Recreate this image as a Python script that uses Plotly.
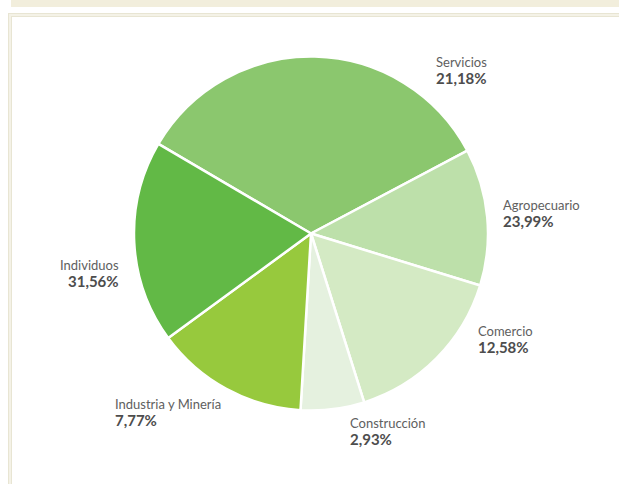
import plotly.graph_objects as go

# Data
categories = ["Servicios", "Agropecuario", "Comercio", "Construcción", "Industria y Minería", "Individuos"]
slice_values = [33.8, 12.5, 15.4, 5.8, 14.0, 18.5]          # slice sizes as drawn
label_percents = ["21,18%", "23,99%", "12,58%", "2,93%", "7,77%", "31,56%"]  # printed labels
colors = ["#8BC76E", "#BDE0AA", "#D4EAC4", "#E5F1DF", "#97C93D", "#62B946"]

W, H = 619, 484

def px(x):
    return x / W

def py(y):
    return 1 - y / H

cx, cy, r = 311, 233.5, 177

fig = go.Figure(go.Pie(
    labels=categories,
    values=slice_values,
    sort=False,
    direction="clockwise",
    rotation=-59.6,
    marker=dict(colors=colors, line=dict(color="white", width=2.5)),
    textinfo="none",
    hoverinfo="label+percent",
    showlegend=False,
    domain=dict(x=[px(cx - r), px(cx + r)], y=[py(cy + r), py(cy - r)]),
))

# label positions (x, y of name line, anchor)
label_pos = [
    (434, 62, "left"),
    (501, 205, "left"),
    (476, 331, "left"),
    (348, 423, "left"),
    (113, 404, "left"),
    (121, 265, "right"),
]

annotations = []
for name, pct, (x, y, anchor) in zip(categories, label_percents, label_pos):
    annotations.append(dict(
        x=px(x), y=py(y), xref="paper", yref="paper", xanchor=anchor, yanchor="middle",
        text=name, showarrow=False, align=anchor,
        font=dict(family="Lato, Open Sans, sans-serif", size=13, color="#606060"),
    ))
    annotations.append(dict(
        x=px(x), y=py(y + 15.5), xref="paper", yref="paper", xanchor=anchor, yanchor="middle",
        text="<b>" + pct + "</b>", showarrow=False, align=anchor,
        font=dict(family="Lato, Open Sans, sans-serif", size=15, color="#4d4d4d"),
    ))

shapes = [
    # top beige band
    dict(type="rect", xref="paper", yref="paper", x0=px(11), x1=1.01, y0=py(7), y1=1.01,
         fillcolor="#F2EEDC", line=dict(width=0), layer="below"),
    # frame
    dict(type="rect", xref="paper", yref="paper", x0=px(8), x1=1.05, y0=-0.05, y1=py(13),
         fillcolor="#E8E5D3", line=dict(width=0), layer="below"),
    dict(type="rect", xref="paper", yref="paper", x0=px(9), x1=1.05, y0=-0.05, y1=py(14),
         fillcolor="#F4F2E7", line=dict(width=0), layer="below"),
    dict(type="rect", xref="paper", yref="paper", x0=px(11), x1=1.05, y0=-0.05, y1=py(16),
         fillcolor="#E8E5D3", line=dict(width=0), layer="below"),
    dict(type="rect", xref="paper", yref="paper", x0=px(12), x1=1.05, y0=-0.05, y1=py(17),
         fillcolor="#FFFFFF", line=dict(width=0), layer="below"),
]

fig.update_layout(
    width=W, height=H,
    margin=dict(l=0, r=0, t=0, b=0),
    paper_bgcolor="white",
    plot_bgcolor="white",
    annotations=annotations,
    shapes=shapes,
)

fig.write_html("out.html", config={"displayModeBar": False},
               post_script="document.body.style.margin='0';document.body.style.overflow='hidden';")
